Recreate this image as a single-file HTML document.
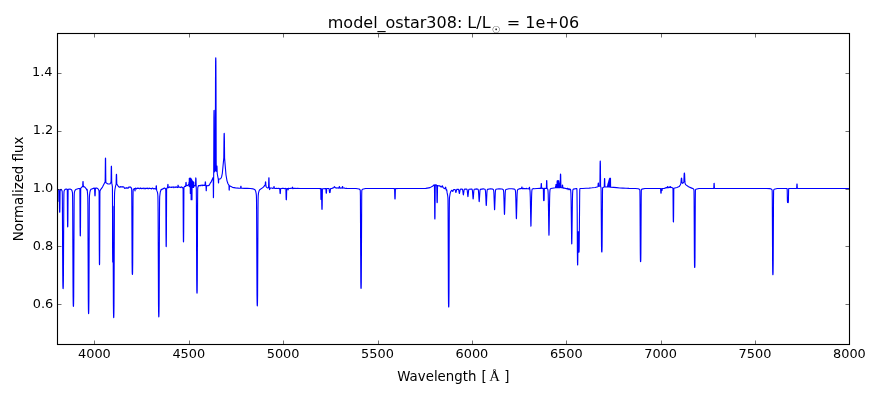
<!DOCTYPE html>
<html><head><meta charset="utf-8"><title>model_ostar308</title>
<style>html,body{margin:0;padding:0;background:#fff}svg{display:block}</style></head>
<body>
<svg width="880" height="400" viewBox="0 0 880 400">
<rect x="0" y="0" width="880" height="400" fill="#ffffff"/>
<defs><clipPath id="ax"><rect x="57.5" y="33.5" width="792.0" height="311.0"/></clipPath></defs>
<path d="M57.50 189.57 L58.70 189.76 L58.80 191.48 L58.90 200.14 L59.00 201.50 L59.10 200.22 L59.20 191.63 L59.30 190.80 L59.50 208.04 L59.60 211.90 L59.70 212.20 L59.80 211.93 L59.90 208.11 L60.10 190.92 L60.20 190.10 L60.60 190.11 L61.00 189.34 L61.50 189.76 L61.90 190.50 L62.10 191.15 L62.20 191.84 L62.30 194.49 L62.40 203.49 L62.70 267.26 L62.80 280.37 L62.90 286.33 L63.00 288.25 L63.10 288.60 L63.20 288.25 L63.30 286.33 L63.40 280.36 L63.80 203.48 L63.90 194.48 L64.00 191.82 L64.10 191.14 L64.50 190.04 L65.10 189.34 L66.30 189.04 L67.20 189.31 L67.30 190.74 L67.50 219.99 L67.60 226.51 L67.70 227.00 L67.80 226.51 L67.90 219.98 L68.10 190.72 L68.20 189.29 L70.00 188.97 L71.10 189.42 L71.70 190.09 L72.10 191.01 L72.40 192.30 L72.50 193.20 L72.60 196.40 L72.70 206.93 L73.00 281.02 L73.10 296.39 L73.20 303.52 L73.30 305.92 L73.40 306.40 L73.50 305.93 L73.60 303.54 L73.70 296.41 L74.10 206.98 L74.20 196.46 L74.30 193.27 L74.50 191.86 L75.00 190.39 L75.70 189.59 L78.70 188.45 L79.70 188.46 L79.80 188.50 L79.90 190.27 L80.10 227.21 L80.20 235.42 L80.30 236.00 L80.40 235.34 L80.50 227.05 L80.70 189.95 L80.80 188.10 L82.30 186.67 L82.60 186.64 L82.70 185.90 L82.90 181.62 L83.00 181.50 L83.10 181.62 L83.30 185.91 L83.40 186.65 L84.60 186.84 L86.10 188.58 L86.90 190.27 L87.00 190.33 L87.10 189.36 L87.20 189.60 L87.30 190.33 L87.40 192.29 L87.70 195.37 L87.80 197.82 L87.90 205.75 L88.30 300.09 L88.40 309.34 L88.50 312.80 L88.60 313.60 L88.70 312.82 L88.80 309.37 L88.90 300.13 L89.30 205.85 L89.40 197.94 L89.50 195.50 L89.90 192.12 L90.40 190.26 L91.10 189.17 L94.10 188.14 L94.50 188.13 L94.60 188.41 L94.80 194.38 L94.90 195.71 L95.00 195.80 L95.10 195.69 L95.20 194.35 L95.40 188.36 L95.50 188.06 L97.00 188.09 L97.90 188.70 L98.60 189.79 L99.00 190.80 L99.10 193.74 L99.30 250.86 L99.40 263.62 L99.50 264.60 L99.60 263.64 L99.70 250.90 L99.90 193.81 L100.00 190.89 L100.80 189.30 L102.50 187.07 L104.90 182.25 L105.10 182.30 L105.20 178.84 L105.40 158.52 L105.50 158.00 L105.60 158.64 L105.80 179.18 L105.90 182.76 L108.00 183.93 L110.00 183.90 L111.00 182.23 L111.10 179.97 L111.20 171.17 L111.30 166.44 L111.40 166.20 L111.50 166.76 L111.70 180.95 L111.80 183.56 L112.00 184.17 L112.40 186.71 L112.50 198.07 L112.60 252.63 L112.70 262.00 L112.80 255.45 L112.90 206.01 L113.00 207.38 L113.40 304.67 L113.50 313.31 L113.60 316.73 L113.70 317.60 L113.80 316.83 L113.90 313.51 L114.00 304.97 L114.40 208.07 L114.50 196.46 L114.60 192.57 L114.90 189.50 L115.60 185.90 L116.10 184.34 L116.30 175.50 L116.40 174.33 L116.50 174.30 L116.60 175.43 L116.80 184.15 L116.90 184.44 L117.00 184.45 L118.20 186.06 L118.50 186.34 L118.90 186.99 L119.10 187.12 L119.80 187.09 L120.30 186.49 L120.40 186.49 L120.80 187.00 L120.90 187.07 L121.40 186.90 L121.70 186.97 L122.10 186.68 L122.20 186.66 L122.60 187.06 L122.70 187.09 L123.20 186.74 L124.00 187.22 L124.50 188.29 L124.60 188.38 L124.70 188.38 L125.10 188.11 L125.50 188.14 L125.90 187.96 L126.30 188.19 L126.40 188.18 L126.80 187.65 L126.90 187.59 L127.00 187.63 L127.40 188.11 L128.00 188.26 L128.20 188.17 L128.70 187.12 L128.80 187.03 L129.20 187.20 L129.40 187.14 L129.60 186.99 L130.10 187.20 L130.50 186.99 L130.60 187.03 L131.10 187.90 L131.50 187.99 L131.60 188.25 L131.70 189.94 L131.80 198.43 L132.10 263.28 L132.20 271.91 L132.30 274.14 L132.40 274.40 L132.50 274.37 L132.60 272.40 L132.70 264.04 L133.00 199.87 L133.10 191.49 L133.20 189.81 L133.40 189.36 L134.20 188.62 L134.30 188.58 L134.70 188.78 L134.80 189.09 L134.90 190.71 L135.00 190.80 L135.10 190.35 L135.20 188.47 L135.30 188.05 L135.40 188.06 L135.80 188.38 L136.10 188.47 L136.50 188.86 L136.60 188.88 L136.80 188.66 L137.10 188.14 L137.20 188.09 L137.60 188.33 L138.00 188.27 L138.40 188.50 L138.60 188.42 L138.90 188.13 L139.00 188.15 L139.40 188.73 L139.50 188.80 L140.30 188.47 L140.70 187.95 L140.80 187.91 L140.90 187.97 L141.30 188.59 L141.40 188.63 L141.80 188.46 L142.20 188.55 L142.60 188.31 L142.80 188.42 L143.10 188.74 L143.20 188.73 L143.60 188.16 L143.70 188.08 L144.40 188.21 L144.60 188.39 L144.90 188.87 L145.00 188.92 L145.10 188.89 L145.50 188.33 L145.70 188.31 L146.00 188.41 L146.30 188.29 L146.50 188.35 L146.80 188.55 L147.00 188.42 L147.30 188.08 L147.40 188.08 L147.90 188.71 L148.60 188.76 L148.80 188.58 L149.10 188.06 L149.20 187.99 L149.30 188.02 L149.70 188.52 L150.20 188.48 L150.50 188.61 L150.70 188.53 L150.90 188.35 L151.00 188.32 L151.20 188.47 L151.50 188.85 L151.60 188.85 L152.10 188.29 L152.80 188.09 L153.00 188.28 L153.30 188.84 L153.40 188.93 L153.50 188.92 L153.90 188.55 L154.40 188.67 L154.70 188.60 L155.20 189.07 L155.30 189.06 L155.60 188.77 L155.70 188.73 L155.90 188.92 L156.00 188.56 L156.10 186.67 L156.20 185.73 L156.30 185.80 L156.40 186.04 L156.60 189.61 L156.70 190.40 L157.40 192.14 L157.60 193.05 L157.80 194.81 L157.90 196.32 L158.00 200.19 L158.10 211.43 L158.50 304.56 L158.60 312.84 L158.70 316.15 L158.80 317.00 L158.90 316.24 L159.00 312.98 L159.10 304.66 L159.50 211.34 L159.60 200.29 L159.70 196.68 L160.30 192.04 L161.10 189.58 L161.30 189.32 L161.40 189.34 L161.70 189.64 L161.80 189.67 L162.00 189.51 L162.30 189.12 L162.70 188.95 L163.10 188.55 L163.30 188.62 L163.50 188.76 L163.60 188.75 L164.10 187.97 L164.20 187.92 L164.90 188.18 L165.40 188.93 L165.50 188.97 L165.70 188.83 L165.80 190.84 L166.00 235.76 L166.10 245.82 L166.20 246.60 L166.30 245.89 L166.40 235.84 L166.60 190.57 L166.70 188.30 L166.90 188.10 L167.20 188.05 L167.40 187.86 L167.50 187.68 L167.60 187.08 L167.80 184.45 L167.90 184.40 L168.00 184.56 L168.20 187.21 L168.30 187.69 L168.40 187.71 L169.10 187.45 L169.60 186.75 L169.70 186.74 L170.10 187.26 L170.20 187.33 L170.60 187.22 L171.00 187.33 L171.40 187.07 L171.50 187.07 L171.90 187.52 L172.00 187.55 L172.20 187.37 L172.50 186.95 L173.20 186.86 L173.40 186.99 L173.80 187.63 L173.90 187.65 L174.30 187.18 L174.50 187.12 L174.80 187.20 L175.20 187.05 L175.60 187.34 L175.70 187.33 L176.10 186.84 L176.20 186.79 L176.40 186.95 L176.70 187.33 L177.40 187.57 L177.50 187.55 L177.70 187.29 L177.80 186.86 L178.00 185.27 L178.10 185.20 L178.20 185.29 L178.40 186.81 L178.50 187.13 L178.70 187.16 L179.00 187.12 L179.30 187.28 L179.50 187.24 L179.80 186.99 L179.90 187.01 L180.30 187.55 L180.40 187.61 L180.60 187.48 L180.90 187.17 L181.30 187.06 L181.60 186.85 L181.70 186.87 L182.20 187.73 L182.30 187.78 L182.70 187.57 L182.90 187.65 L183.00 187.74 L183.10 189.80 L183.30 232.02 L183.40 241.37 L183.50 242.00 L183.60 241.27 L183.70 231.85 L183.90 189.63 L184.00 187.58 L184.60 186.36 L184.70 186.30 L185.40 186.36 L185.60 186.48 L185.70 185.98 L185.90 182.60 L186.00 182.40 L186.10 182.31 L186.20 183.29 L186.30 185.30 L186.40 185.73 L186.50 185.67 L186.90 185.80 L187.00 185.78 L187.30 185.50 L187.70 185.45 L188.20 184.72 L188.30 184.67 L188.50 184.80 L188.70 185.11 L188.80 185.17 L189.00 182.20 L189.10 186.25 L189.20 186.38 L189.30 178.30 L189.40 178.30 L189.50 186.61 L189.60 186.67 L189.70 178.30 L189.80 178.30 L189.90 186.83 L190.00 186.89 L190.10 178.30 L190.20 178.30 L190.30 193.40 L190.40 193.40 L190.50 178.30 L190.60 178.30 L190.70 193.40 L190.80 193.40 L190.90 178.30 L191.00 178.60 L191.10 199.70 L191.20 199.70 L191.30 179.15 L191.40 179.33 L191.50 199.70 L191.60 199.70 L191.70 179.87 L191.80 180.05 L191.90 199.70 L192.00 199.70 L192.10 180.60 L192.20 181.00 L192.30 187.50 L192.40 187.50 L192.50 181.23 L192.60 181.30 L192.70 187.50 L192.80 187.50 L192.90 181.53 L193.00 181.60 L193.10 187.50 L193.20 187.50 L193.30 181.83 L193.40 181.90 L193.50 187.50 L193.60 187.50 L193.70 182.13 L193.80 182.20 L193.90 186.75 L194.00 185.40 L194.20 185.78 L194.30 185.87 L194.40 185.86 L194.80 185.46 L195.00 185.53 L195.40 185.84 L195.50 185.64 L195.70 178.65 L195.80 177.90 L195.90 178.13 L196.00 179.32 L196.20 187.04 L196.30 189.22 L196.40 199.47 L196.70 279.16 L196.80 289.92 L196.90 292.80 L197.00 293.20 L197.10 293.10 L197.20 290.45 L197.30 279.82 L197.60 199.95 L197.70 189.59 L197.80 187.58 L198.40 185.79 L198.50 185.63 L198.60 185.58 L199.00 185.82 L199.50 185.61 L199.80 185.68 L200.30 185.31 L200.50 185.45 L200.80 185.80 L200.90 185.78 L201.40 185.19 L201.80 185.08 L202.10 184.92 L202.30 185.11 L202.60 185.64 L202.70 185.71 L202.80 185.69 L203.20 185.29 L203.60 185.32 L204.00 185.12 L204.40 185.51 L204.50 185.56 L204.70 185.42 L205.00 185.08 L205.10 184.58 L205.20 182.75 L205.30 181.83 L205.40 181.90 L205.50 182.11 L205.70 185.23 L205.80 185.79 L206.00 186.01 L206.20 190.73 L206.30 190.79 L206.50 186.17 L206.80 185.65 L206.90 185.59 L207.40 185.82 L207.80 185.67 L208.20 185.77 L208.60 185.33 L208.90 185.28 L209.10 185.35 L209.20 185.31 L210.60 182.53 L211.00 182.26 L213.10 177.43 L213.20 177.42 L213.40 197.64 L213.50 197.23 L213.70 173.60 L213.90 118.30 L214.00 110.80 L214.10 110.39 L214.20 117.06 L214.40 170.52 L214.50 171.87 L214.60 171.46 L215.10 171.03 L215.20 170.62 L215.30 162.69 L215.50 82.95 L215.60 61.53 L215.70 57.89 L215.80 57.80 L215.90 61.25 L216.00 82.48 L216.20 162.50 L216.30 170.56 L216.40 171.11 L216.50 171.32 L216.60 170.65 L216.70 167.53 L216.80 165.93 L216.90 166.00 L217.00 166.36 L217.20 172.60 L217.30 174.02 L218.30 179.37 L218.40 182.49 L218.50 183.00 L218.60 182.57 L218.70 179.54 L218.80 178.98 L219.80 179.07 L220.50 178.76 L221.10 178.01 L221.70 176.47 L222.30 173.50 L223.80 157.90 L224.00 138.87 L224.10 133.74 L224.20 133.30 L224.30 133.84 L224.40 139.07 L224.60 158.35 L226.00 175.01 L227.00 180.85 L228.00 183.77 L228.90 185.14 L229.00 185.94 L229.10 189.56 L229.20 190.20 L229.30 189.76 L229.40 186.35 L229.50 185.76 L232.50 187.35 L235.50 187.88 L238.50 188.16 L240.50 188.23 L240.60 187.96 L240.80 186.34 L240.90 186.30 L241.00 186.35 L241.20 187.98 L241.30 188.26 L244.30 188.34 L247.30 188.42 L250.30 188.53 L253.30 188.89 L254.60 189.49 L255.20 190.16 L255.70 191.29 L256.10 193.09 L256.30 194.63 L256.40 195.91 L256.50 199.37 L256.60 209.60 L257.00 294.79 L257.10 302.32 L257.20 305.28 L257.30 306.00 L257.40 305.28 L257.50 302.33 L257.60 294.79 L258.00 209.60 L258.10 199.37 L258.20 195.92 L258.50 193.10 L259.00 191.01 L259.70 189.79 L262.80 187.63 L263.00 187.51 L263.70 186.70 L264.00 186.48 L264.60 185.39 L265.20 184.89 L265.30 184.27 L265.40 182.55 L265.50 181.73 L265.60 181.90 L265.70 182.24 L265.90 185.68 L266.00 186.38 L266.30 186.88 L267.00 187.62 L267.50 187.91 L267.80 187.87 L268.20 187.64 L268.50 187.76 L268.60 186.39 L268.80 178.03 L268.90 177.80 L269.00 178.03 L269.20 186.48 L269.30 187.96 L269.40 188.24 L269.50 189.41 L269.60 189.60 L269.70 189.41 L269.80 188.24 L269.90 187.99 L270.10 187.98 L270.50 188.23 L270.70 188.22 L271.10 188.01 L271.90 188.03 L272.40 188.40 L273.00 188.21 L273.60 188.22 L273.70 187.95 L273.80 186.99 L273.90 186.49 L274.00 186.50 L274.10 186.59 L274.30 188.11 L274.40 188.33 L274.70 188.18 L274.90 188.20 L275.40 188.44 L276.10 188.54 L276.60 188.19 L277.30 188.37 L278.00 188.44 L278.40 188.31 L279.00 188.60 L279.70 188.42 L279.80 188.61 L280.00 192.68 L280.10 193.56 L280.20 193.60 L280.30 193.54 L280.40 192.66 L280.60 188.68 L280.70 188.56 L280.90 188.61 L281.40 188.45 L282.20 188.36 L282.60 188.52 L283.20 188.23 L284.50 188.67 L285.00 188.37 L285.80 188.52 L285.90 188.95 L286.10 197.67 L286.20 199.64 L286.30 199.80 L286.40 199.64 L286.50 197.67 L286.70 188.90 L286.80 188.45 L287.40 188.67 L287.80 188.55 L287.90 188.74 L288.00 189.76 L288.10 189.90 L288.20 189.71 L288.30 188.62 L288.40 188.34 L288.70 188.21 L289.20 188.50 L290.20 188.46 L290.50 188.37 L291.00 188.57 L291.60 188.28 L292.10 188.31 L292.20 188.13 L292.30 187.49 L292.40 187.17 L292.50 187.20 L292.60 187.31 L292.80 188.46 L292.90 188.65 L293.40 188.38 L294.40 188.40 L294.70 188.49 L295.20 188.27 L295.80 188.54 L296.50 188.56 L297.00 188.30 L300.10 188.45 L303.10 188.45 L306.10 188.45 L309.20 188.45 L312.20 188.45 L315.20 188.46 L318.30 188.48 L320.70 188.61 L320.80 190.20 L320.90 198.25 L321.00 199.50 L321.10 198.29 L321.20 190.28 L321.30 188.74 L321.50 188.80 L321.60 189.58 L321.80 205.57 L321.90 209.13 L322.00 209.40 L322.10 209.13 L322.20 205.57 L322.40 189.58 L322.50 188.80 L325.50 188.54 L325.80 188.56 L325.90 188.73 L326.10 192.34 L326.20 193.14 L326.30 193.20 L326.40 193.14 L326.50 192.34 L326.70 188.73 L326.80 188.55 L328.90 188.52 L329.00 188.60 L329.10 188.91 L329.50 192.29 L329.60 192.54 L329.90 192.59 L330.00 192.53 L330.10 192.28 L330.50 188.91 L330.60 188.59 L332.00 188.52 L332.60 188.04 L333.40 187.88 L333.50 187.90 L333.80 187.68 L334.40 186.63 L335.50 187.80 L335.70 187.83 L336.10 187.69 L336.70 188.08 L337.50 188.02 L337.90 187.80 L338.10 187.84 L338.50 188.14 L339.00 188.08 L339.10 187.86 L339.30 186.55 L339.50 186.51 L339.60 186.94 L339.70 187.77 L339.80 187.99 L340.30 188.22 L340.90 187.90 L341.60 187.94 L342.10 188.29 L342.20 188.07 L342.40 186.62 L342.50 186.50 L342.60 186.47 L342.70 186.90 L342.80 187.77 L342.90 188.01 L343.60 187.99 L344.00 188.13 L344.50 187.94 L345.10 188.33 L345.80 188.47 L346.30 188.19 L347.00 188.47 L350.00 188.47 L353.00 188.49 L356.00 188.54 L359.10 188.96 L359.80 189.47 L360.20 190.11 L360.30 190.81 L360.40 195.49 L360.80 282.01 L360.90 287.47 L361.00 288.38 L361.10 288.38 L361.20 287.47 L361.30 282.01 L361.70 195.49 L361.80 190.81 L361.90 190.11 L362.50 189.27 L365.50 188.56 L368.50 188.49 L371.60 188.47 L374.60 188.47 L377.60 188.46 L380.70 188.46 L383.70 188.46 L386.70 188.46 L389.80 188.47 L392.80 188.49 L394.50 188.63 L394.60 189.02 L394.80 197.07 L394.90 198.87 L395.00 199.00 L395.10 198.87 L395.20 197.07 L395.40 189.02 L395.50 188.63 L398.50 188.48 L401.50 188.46 L404.50 188.46 L407.50 188.46 L410.60 188.47 L413.60 188.47 L416.70 188.47 L419.70 188.48 L422.80 188.44 L425.80 188.40 L428.80 187.85 L430.00 187.63 L432.50 186.33 L434.00 184.86 L434.30 184.80 L434.40 184.96 L434.50 189.72 L434.70 216.78 L434.80 218.95 L434.90 218.99 L435.00 216.88 L435.20 189.86 L435.30 185.07 L435.40 184.89 L436.60 185.14 L436.70 185.28 L436.80 187.75 L437.00 201.55 L437.10 202.67 L437.20 202.70 L437.30 201.65 L437.50 187.99 L437.60 185.58 L437.70 185.50 L438.60 185.71 L439.00 185.91 L439.50 185.88 L440.20 186.14 L440.70 186.79 L440.90 186.85 L441.20 186.72 L441.70 186.94 L441.80 186.95 L441.90 186.78 L442.10 185.93 L442.20 185.76 L442.60 186.12 L442.90 187.22 L443.00 187.39 L443.30 187.65 L443.70 188.14 L444.40 188.65 L444.90 188.54 L445.00 188.56 L445.10 188.41 L445.30 187.37 L445.40 187.16 L445.70 187.41 L445.80 187.61 L446.10 189.83 L446.20 190.05 L446.40 189.42 L446.50 189.44 L446.70 189.82 L446.80 190.22 L447.10 192.67 L447.70 195.72 L447.90 197.40 L448.00 200.08 L448.10 211.11 L448.40 292.67 L448.50 303.70 L448.60 306.68 L448.70 307.00 L448.80 306.69 L448.90 303.73 L449.00 292.71 L449.30 211.19 L449.40 200.17 L449.50 197.51 L450.10 193.59 L450.70 191.68 L451.50 190.54 L451.90 190.33 L452.10 190.41 L452.60 191.29 L452.70 191.39 L452.80 191.39 L453.00 191.06 L453.50 189.83 L453.90 189.52 L454.80 189.45 L455.00 189.57 L455.20 189.93 L455.80 192.42 L455.90 192.50 L456.00 192.34 L456.60 189.76 L456.80 189.40 L458.10 189.20 L458.40 189.32 L458.60 189.63 L458.80 190.37 L459.30 193.36 L459.40 193.50 L459.50 193.33 L460.10 189.86 L460.30 189.37 L460.60 189.14 L462.10 189.12 L462.40 189.31 L462.60 189.76 L462.90 191.57 L463.20 194.17 L463.30 194.67 L463.40 194.79 L463.50 194.49 L464.10 189.95 L464.30 189.36 L464.60 189.08 L466.50 189.03 L466.80 189.17 L467.00 189.45 L467.20 190.21 L467.80 196.17 L467.90 196.58 L468.00 196.45 L468.60 190.52 L468.80 189.56 L469.00 189.18 L471.40 188.94 L471.90 189.12 L472.10 189.32 L472.30 189.87 L472.50 191.23 L473.00 198.17 L473.10 198.90 L473.20 198.92 L473.40 197.01 L473.80 191.29 L474.00 189.89 L474.20 189.32 L477.10 188.91 L477.90 189.17 L478.10 189.37 L478.30 189.90 L478.50 191.28 L479.10 201.10 L479.20 201.60 L479.30 201.19 L479.90 191.38 L480.10 189.94 L480.30 189.38 L483.30 188.83 L484.80 189.18 L485.10 189.46 L485.30 189.97 L485.50 191.34 L485.80 196.66 L486.10 204.00 L486.20 205.33 L486.30 205.54 L486.40 204.58 L486.90 193.17 L487.10 190.74 L487.30 189.74 L487.50 189.37 L490.60 188.77 L492.80 189.11 L493.30 189.46 L493.50 189.83 L493.70 190.80 L493.90 193.26 L494.50 209.27 L494.60 209.78 L494.70 208.83 L495.30 192.74 L495.50 190.57 L495.70 189.74 L496.00 189.33 L499.10 188.72 L502.10 188.96 L503.00 189.40 L503.30 189.80 L503.50 190.53 L503.70 192.49 L504.00 200.28 L504.30 211.57 L504.40 213.80 L504.50 214.37 L504.60 213.14 L505.20 193.55 L505.40 190.95 L505.60 189.95 L505.90 189.45 L508.90 188.69 L511.90 188.69 L514.40 189.14 L515.00 189.60 L515.20 189.94 L515.40 190.73 L515.60 192.86 L515.80 197.78 L516.30 217.73 L516.40 218.70 L516.50 217.57 L517.10 194.69 L517.30 191.45 L517.50 190.20 L517.80 189.58 L519.00 188.90 L520.40 188.67 L520.80 188.70 L521.20 188.48 L521.50 188.54 L521.60 188.35 L521.80 187.03 L521.90 187.00 L522.00 187.04 L522.20 188.45 L522.30 188.72 L522.60 188.74 L523.10 188.42 L524.50 188.61 L524.90 188.48 L525.40 188.71 L526.70 188.39 L527.30 188.73 L528.60 188.68 L529.00 188.91 L529.10 188.72 L529.30 187.36 L529.40 187.30 L529.50 187.34 L529.60 187.87 L529.70 188.87 L529.90 189.80 L530.10 191.90 L530.30 197.25 L530.80 223.84 L530.90 226.21 L531.00 225.83 L531.60 196.23 L531.80 191.48 L532.00 189.72 L532.20 189.15 L532.40 188.97 L532.90 188.83 L533.30 188.61 L533.90 188.71 L537.00 188.48 L540.10 188.40 L540.90 188.38 L541.00 187.68 L541.20 183.62 L541.30 183.50 L541.40 183.61 L541.60 187.67 L541.70 188.36 L543.30 188.37 L543.40 190.83 L543.50 198.24 L543.60 200.42 L543.70 200.60 L544.00 200.60 L544.10 200.42 L544.20 198.24 L544.30 190.83 L544.40 188.37 L546.30 188.46 L546.40 187.32 L546.60 180.67 L546.70 180.50 L546.80 180.71 L547.00 187.46 L547.10 188.65 L547.60 188.97 L547.80 189.35 L548.00 190.56 L548.20 194.26 L548.50 209.45 L548.80 230.82 L548.90 234.71 L549.00 235.31 L549.10 232.51 L549.60 199.42 L549.80 192.60 L550.00 189.96 L550.20 189.12 L550.80 188.57 L553.90 187.95 L555.40 187.77 L555.60 186.20 L555.70 187.74 L555.80 187.73 L555.90 184.60 L556.00 184.60 L556.10 187.70 L556.20 187.70 L556.30 184.60 L556.40 184.60 L556.50 187.70 L556.60 187.70 L556.70 184.60 L556.80 184.60 L556.90 187.70 L557.00 187.70 L557.10 182.00 L557.20 180.70 L557.30 187.69 L557.40 187.69 L557.50 180.70 L557.60 180.70 L557.70 187.69 L557.80 187.69 L557.90 180.70 L558.00 180.70 L558.10 187.69 L558.20 187.69 L558.30 180.70 L558.40 180.70 L558.50 187.69 L558.60 187.69 L558.70 180.70 L558.80 180.70 L558.90 187.69 L559.00 187.69 L559.10 183.30 L559.20 183.30 L559.30 187.69 L559.40 187.69 L559.50 183.30 L559.60 183.30 L559.70 187.69 L559.80 187.69 L559.90 183.30 L560.00 183.30 L560.10 187.69 L560.20 187.30 L560.40 175.55 L560.50 174.02 L560.60 174.02 L560.70 175.55 L560.90 187.30 L561.00 187.69 L562.10 187.70 L562.20 187.30 L562.30 185.80 L562.40 185.01 L562.50 185.00 L562.60 185.12 L562.80 187.57 L562.90 188.00 L563.40 188.21 L563.60 188.15 L563.90 187.84 L564.00 187.80 L564.50 188.32 L565.00 188.40 L565.30 188.55 L565.80 188.37 L566.30 188.83 L566.50 188.75 L566.80 188.45 L567.50 188.29 L567.60 188.33 L567.90 189.42 L568.10 189.72 L568.20 189.65 L568.40 188.95 L568.60 188.75 L568.80 188.71 L569.20 188.80 L569.40 189.38 L569.70 189.69 L569.80 189.68 L570.00 189.23 L570.30 189.18 L570.40 189.24 L570.50 189.41 L570.70 190.35 L570.90 193.19 L571.10 200.59 L571.60 239.63 L571.70 243.71 L571.80 243.85 L572.00 233.02 L572.40 200.94 L572.60 193.34 L572.80 190.46 L573.00 189.57 L573.40 189.10 L576.50 188.55 L576.80 188.58 L576.90 189.27 L577.00 192.86 L577.20 213.59 L577.40 254.78 L577.50 262.94 L577.60 264.80 L577.70 265.05 L577.80 260.30 L578.00 234.01 L578.10 231.85 L578.40 231.80 L578.50 231.82 L578.60 233.15 L578.80 249.31 L578.90 252.29 L579.00 252.30 L579.10 251.47 L579.20 246.93 L579.70 192.81 L579.80 189.22 L579.90 188.53 L582.90 188.48 L586.00 188.30 L589.10 188.12 L592.10 187.82 L595.20 187.43 L597.90 186.66 L598.00 186.15 L598.20 183.23 L598.30 183.10 L598.40 183.14 L598.50 184.09 L598.60 185.88 L598.70 186.32 L599.60 185.99 L599.80 186.10 L599.90 185.44 L600.10 163.78 L600.20 161.00 L600.30 161.08 L600.40 164.01 L600.60 185.99 L600.70 186.81 L600.90 187.10 L601.00 187.69 L601.10 190.96 L601.50 245.78 L601.60 250.61 L601.70 251.86 L601.80 252.00 L601.90 251.93 L602.00 250.75 L602.10 245.98 L602.50 191.44 L602.60 188.21 L602.70 187.65 L604.00 186.99 L604.20 186.94 L604.30 185.73 L604.50 178.70 L604.60 178.50 L604.70 178.69 L604.90 185.70 L605.00 186.90 L607.20 186.96 L607.40 186.04 L607.50 186.97 L607.60 186.97 L607.70 184.97 L607.80 184.62 L607.90 186.98 L608.00 186.99 L608.10 183.55 L608.20 183.19 L608.30 187.00 L608.40 187.00 L608.50 182.12 L608.60 181.77 L608.70 187.02 L608.80 187.02 L608.90 180.70 L609.00 180.34 L609.10 187.03 L609.20 187.04 L609.30 179.27 L609.40 178.91 L609.50 187.05 L609.60 187.06 L609.70 178.20 L609.80 178.20 L609.90 187.07 L610.00 187.07 L610.10 178.20 L610.20 178.20 L610.30 187.09 L610.40 187.09 L610.50 178.20 L610.60 187.10 L613.70 187.34 L616.70 187.63 L619.80 187.94 L622.90 188.11 L626.00 188.26 L629.10 188.42 L632.10 188.48 L635.20 188.51 L638.30 188.73 L639.30 189.16 L639.70 189.59 L639.80 189.81 L639.90 191.20 L640.00 198.24 L640.30 252.37 L640.40 259.59 L640.50 261.44 L640.60 261.60 L640.70 261.44 L640.80 259.59 L640.90 252.37 L641.20 198.24 L641.30 191.20 L641.40 189.81 L641.90 189.16 L644.90 188.54 L648.00 188.48 L651.10 188.47 L654.20 188.47 L657.20 188.47 L660.30 188.54 L660.50 188.55 L660.60 188.73 L660.80 192.33 L660.90 193.14 L661.00 193.20 L661.10 193.14 L661.20 192.34 L661.40 188.75 L661.50 188.65 L661.70 190.15 L661.80 190.48 L662.00 190.47 L662.10 190.13 L662.30 188.60 L662.40 188.53 L664.10 188.45 L665.10 188.15 L666.10 187.57 L666.30 187.60 L666.70 187.92 L666.90 187.91 L667.10 187.78 L667.20 187.56 L667.40 186.62 L667.60 186.62 L667.80 187.46 L667.90 187.57 L668.20 187.54 L668.50 187.67 L668.60 187.67 L668.70 187.55 L668.90 186.98 L669.10 186.87 L669.20 187.02 L669.30 187.33 L669.60 187.54 L670.00 187.58 L670.10 187.46 L670.20 186.91 L670.30 186.62 L670.50 186.59 L670.60 186.83 L670.70 187.32 L670.80 187.38 L671.00 187.27 L672.80 188.02 L672.90 188.10 L673.00 189.41 L673.20 215.69 L673.30 221.55 L673.40 222.00 L673.50 221.57 L673.60 215.73 L673.80 189.49 L673.90 188.21 L676.90 187.51 L679.20 186.58 L680.40 184.78 L680.90 183.36 L681.30 178.56 L681.40 178.23 L681.50 178.10 L681.60 178.18 L681.70 178.45 L682.00 182.26 L682.10 182.89 L682.70 183.37 L683.70 182.22 L683.80 181.92 L683.90 180.74 L684.10 175.26 L684.20 173.69 L684.30 173.17 L684.40 173.00 L684.50 173.36 L684.60 174.06 L684.90 181.65 L685.00 183.03 L685.60 184.58 L688.60 186.75 L691.70 188.13 L693.30 188.87 L693.80 189.46 L693.90 189.71 L694.00 191.22 L694.10 198.86 L694.40 257.48 L694.50 265.31 L694.60 267.32 L694.70 267.50 L694.80 267.34 L694.90 265.35 L695.00 257.54 L695.30 198.98 L695.40 191.36 L695.50 189.87 L695.90 189.30 L699.00 188.55 L702.00 188.49 L705.10 188.47 L708.20 188.46 L711.30 188.46 L713.70 188.45 L713.80 187.71 L714.00 183.42 L714.10 183.30 L714.20 183.42 L714.40 187.71 L714.50 188.44 L717.60 188.46 L720.60 188.45 L723.70 188.45 L726.80 188.45 L729.90 188.45 L732.90 188.45 L736.00 188.45 L739.10 188.45 L742.20 188.45 L745.20 188.45 L748.30 188.45 L751.40 188.46 L754.50 188.46 L757.50 188.46 L760.60 188.46 L763.70 188.47 L766.80 188.50 L769.90 188.65 L771.30 189.05 L771.90 189.63 L772.10 190.05 L772.20 191.68 L772.30 199.99 L772.60 263.82 L772.70 272.33 L772.80 274.52 L772.90 274.70 L773.00 274.52 L773.10 272.33 L773.20 263.82 L773.50 199.99 L773.60 191.68 L773.70 190.05 L774.20 189.28 L777.20 188.55 L780.30 188.49 L783.40 188.47 L786.50 188.46 L787.10 188.49 L787.20 190.12 L787.40 200.69 L787.50 202.26 L787.60 202.57 L788.10 202.60 L788.20 202.57 L788.30 202.26 L788.40 200.69 L788.60 190.12 L788.70 188.49 L791.80 188.46 L794.80 188.45 L796.60 188.44 L796.70 187.81 L796.90 184.10 L797.00 184.00 L797.10 184.10 L797.30 187.81 L797.40 188.44 L800.50 188.45 L803.60 188.45 L806.70 188.45 L809.70 188.45 L812.80 188.45 L815.90 188.45 L819.00 188.45 L822.00 188.45 L825.10 188.45 L828.20 188.45 L831.30 188.45 L834.30 188.45 L837.40 188.45 L840.50 188.45 L843.60 188.45 L846.70 188.45 L849.50 188.45" fill="none" stroke="#0000ff" stroke-width="1.11" stroke-linejoin="round" stroke-linecap="butt" clip-path="url(#ax)"/>
<path d="M94.5 344.5 v-4 M94.5 33.5 v4 M189.5 344.5 v-4 M189.5 33.5 v4 M283.5 344.5 v-4 M283.5 33.5 v4 M378.5 344.5 v-4 M378.5 33.5 v4 M472.5 344.5 v-4 M472.5 33.5 v4 M566.5 344.5 v-4 M566.5 33.5 v4 M661.5 344.5 v-4 M661.5 33.5 v4 M755.5 344.5 v-4 M755.5 33.5 v4 M57.5 304.5 h4 M849.5 304.5 h-4 M57.5 246.5 h4 M849.5 246.5 h-4 M57.5 189.5 h4 M849.5 189.5 h-4 M57.5 131.5 h4 M849.5 131.5 h-4 M57.5 73.5 h4 M849.5 73.5 h-4" stroke="#000" stroke-width="0.56" fill="none"/>
<rect x="57.5" y="33.5" width="792.0" height="311.0" fill="none" stroke="#000" stroke-width="1.11"/>
<text x="94.4" y="358.3" text-anchor="middle" font-size="12.9" font-family='"DejaVu Sans","Liberation Sans",sans-serif' fill="#000">4000</text>
<text x="188.8" y="358.3" text-anchor="middle" font-size="12.9" font-family='"DejaVu Sans","Liberation Sans",sans-serif' fill="#000">4500</text>
<text x="283.1" y="358.3" text-anchor="middle" font-size="12.9" font-family='"DejaVu Sans","Liberation Sans",sans-serif' fill="#000">5000</text>
<text x="377.5" y="358.3" text-anchor="middle" font-size="12.9" font-family='"DejaVu Sans","Liberation Sans",sans-serif' fill="#000">5500</text>
<text x="471.9" y="358.3" text-anchor="middle" font-size="12.9" font-family='"DejaVu Sans","Liberation Sans",sans-serif' fill="#000">6000</text>
<text x="566.3" y="358.3" text-anchor="middle" font-size="12.9" font-family='"DejaVu Sans","Liberation Sans",sans-serif' fill="#000">6500</text>
<text x="660.6" y="358.3" text-anchor="middle" font-size="12.9" font-family='"DejaVu Sans","Liberation Sans",sans-serif' fill="#000">7000</text>
<text x="755.0" y="358.3" text-anchor="middle" font-size="12.9" font-family='"DejaVu Sans","Liberation Sans",sans-serif' fill="#000">7500</text>
<text x="849.4" y="358.3" text-anchor="middle" font-size="12.9" font-family='"DejaVu Sans","Liberation Sans",sans-serif' fill="#000">8000</text>
<text x="53.3" y="308.2" text-anchor="end" font-size="12.9" font-family='"DejaVu Sans","Liberation Sans",sans-serif' fill="#000">0.6</text>
<text x="53.3" y="250.2" text-anchor="end" font-size="12.9" font-family='"DejaVu Sans","Liberation Sans",sans-serif' fill="#000">0.8</text>
<text x="53.3" y="192.2" text-anchor="end" font-size="12.9" font-family='"DejaVu Sans","Liberation Sans",sans-serif' fill="#000">1.0</text>
<text x="53.3" y="134.2" text-anchor="end" font-size="12.9" font-family='"DejaVu Sans","Liberation Sans",sans-serif' fill="#000">1.2</text>
<text x="52.5" y="76.2" text-anchor="end" font-size="12.9" font-family='"DejaVu Sans","Liberation Sans",sans-serif' fill="#000">1.4</text>
<text x="397.3" y="380.8" text-anchor="start" font-size="13.33" font-family='"DejaVu Sans","Liberation Sans",sans-serif' fill="#000">Wavelength<tspan dx="0.85"> [</tspan></text>
<text x="494.6" y="380.8" text-anchor="middle" font-size="14.8" font-family='"Liberation Serif","DejaVu Serif",serif' fill="#000">Å</text>
<text x="504.2" y="380.8" text-anchor="start" font-size="13.33" font-family='"DejaVu Sans","Liberation Sans",sans-serif' fill="#000">]</text>
<text transform="translate(23.4,189) rotate(-90)" text-anchor="middle" font-size="13.33" font-family='"DejaVu Sans","Liberation Sans",sans-serif' fill="#000">Normalized flux</text>
<text x="490.6" y="28.2" text-anchor="end" font-size="16" font-family='"DejaVu Sans","Liberation Sans",sans-serif' fill="#000">model_ostar308: L/L</text>
<text x="496.2" y="32.9" text-anchor="middle" font-size="9.6" font-family='"DejaVu Sans","Liberation Sans",sans-serif' fill="#222">☉</text>
<text x="506.8" y="28.2" text-anchor="start" font-size="16" font-family='"DejaVu Sans","Liberation Sans",sans-serif' fill="#000">= 1e+06</text>
</svg>
</body></html>
